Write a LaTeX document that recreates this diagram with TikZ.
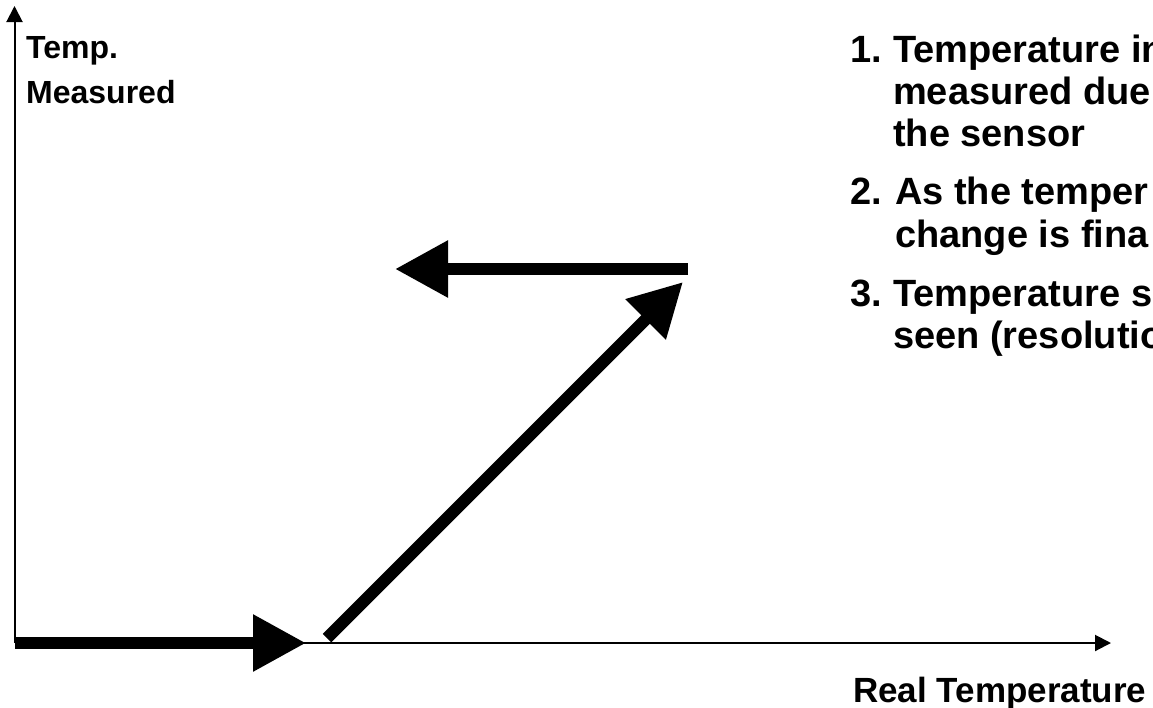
\documentclass[tikz,border=0pt]{standalone}
\usepackage{fontspec}
\setmainfont{Liberation Sans}
\usetikzlibrary{arrows.meta}

\tikzset{
  axis/.style={line width=2pt,-{Triangle[length=16pt,width=16pt]}},
  bigarrow/.style={line width=12pt,-{Triangle[length=53pt,width=54pt]}},
  axislabel/.style={font=\fontsize{32}{36}\selectfont\bfseries,anchor=base west,inner sep=0pt},
  itemtext/.style={font=\fontsize{38}{42}\selectfont\bfseries,anchor=base west,inner sep=0pt},
}

\begin{document}
\begin{tikzpicture}[x=1pt,y=-1pt]
    \useasboundingbox (0,0) rectangle (1153,707);
    \clip (0,0) rectangle (1153,707);
    % Axes
    \coordinate (origin) at (14.5,643);
    \coordinate (ytop) at (14.5,6);
    \coordinate (xend) at (1111,643);
    \draw[axis] (origin) -- (ytop);
    \draw[axis] (origin) -- (xend);
    % Axis labels
    \node[axislabel] (ylabA) at (26,58) {Temp.};
    \node[axislabel] (ylabB) at (26,103) {Measured};
    \node[axislabel,font=\fontsize{35}{38}\selectfont\bfseries] (xlab) at (853,702) {Real Temperature};
    % Thick arrows
    \coordinate (flatA) at (15,643);
    \coordinate (flatB) at (306,643);
    \coordinate (riseA) at (327,638);
    \coordinate (riseB) at (683,282);
    \coordinate (backA) at (688,269);
    \coordinate (backB) at (395,269);
    \draw[bigarrow] (flatA) -- (flatB);
    \draw[bigarrow] (riseA) -- (riseB);
    \draw[bigarrow] (backA) -- (backB);
    % Numbered notes
    \node[itemtext] (numA) at (850,62) {1.};
    \node[itemtext] (noteA1) at (893,62) {Temperature in};
    \node[itemtext] (noteA2) at (893,104) {measured due};
    \node[itemtext] (noteA3) at (893,146) {the sensor};
    \node[itemtext] (numB) at (850,204) {2.};
    \node[itemtext] (noteB1) at (895,204) {As the temper};
    \node[itemtext] (noteB2) at (895,247) {change is fina};
    \node[itemtext] (numC) at (850,306) {3.};
    \node[itemtext] (noteC1) at (893,306) {Temperature s};
    \node[itemtext] (noteC2) at (893,348) {seen (resolutio};
\end{tikzpicture}
\end{document}
